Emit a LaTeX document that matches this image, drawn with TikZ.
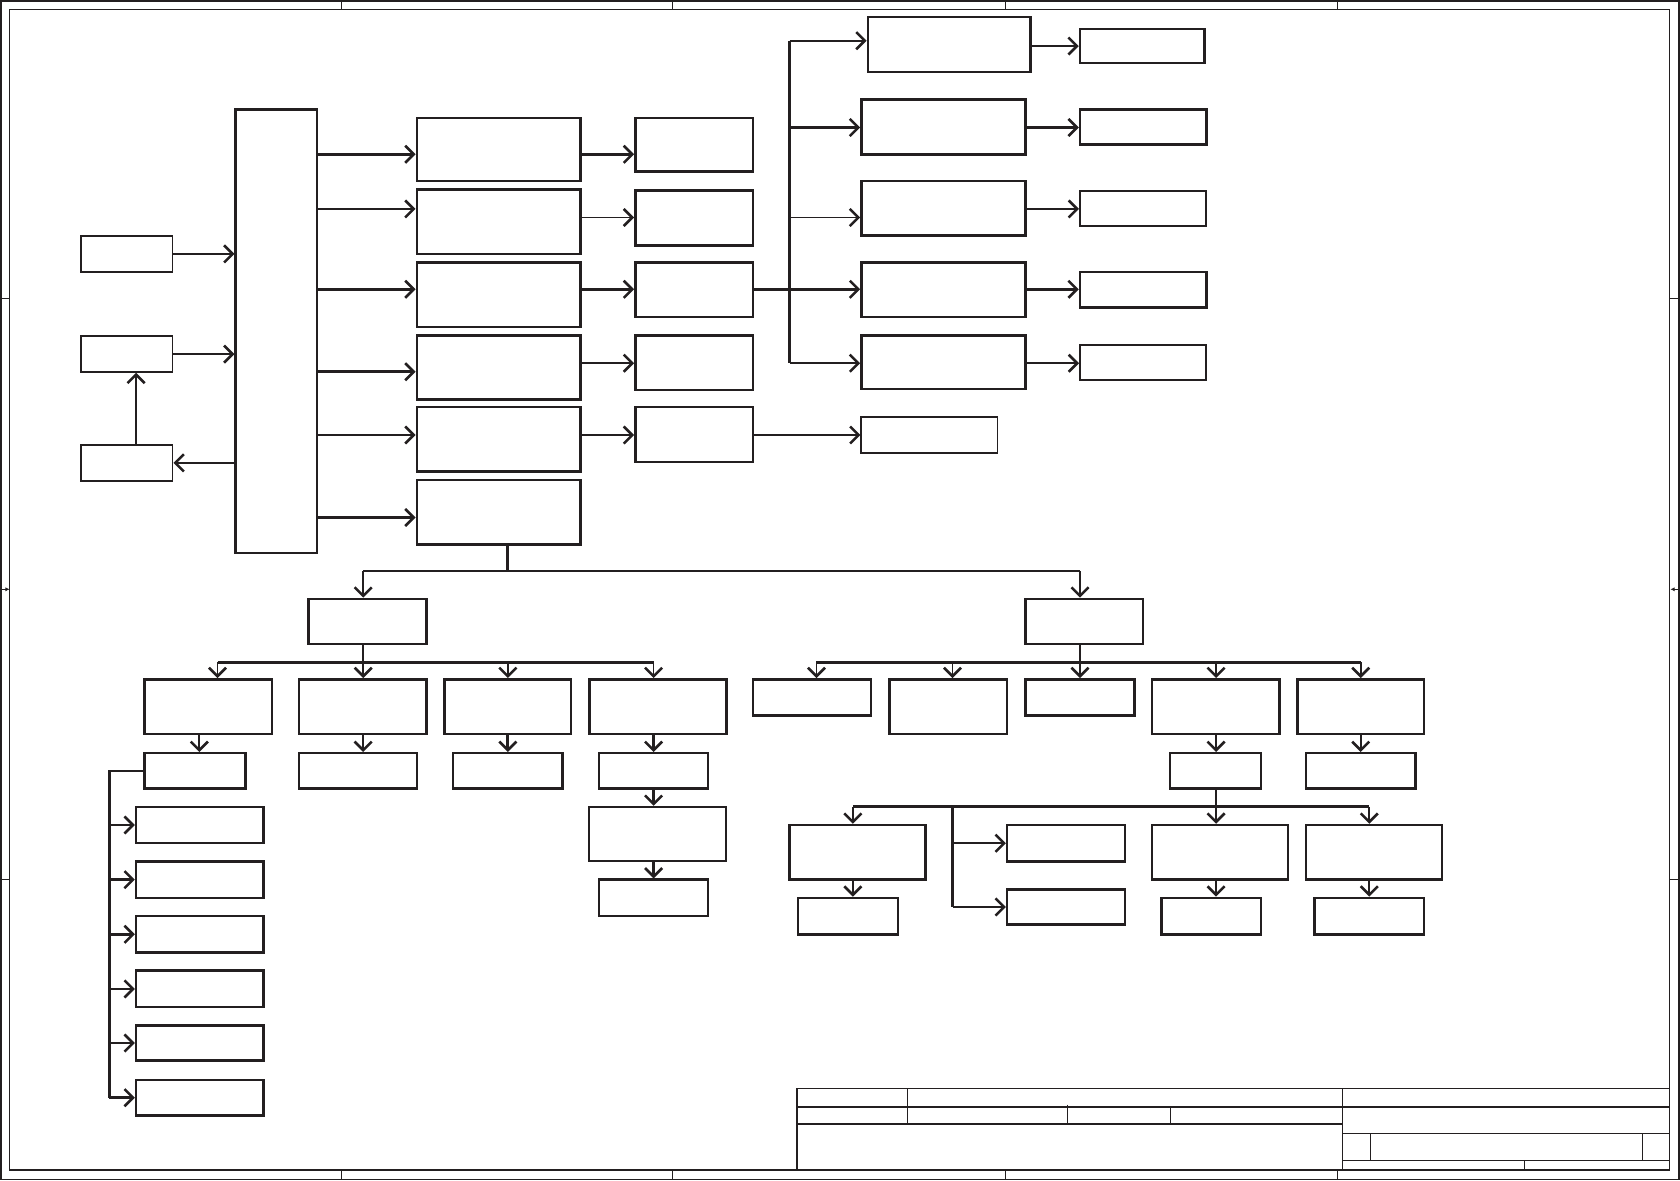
\documentclass[tikz,border=0pt]{standalone}
\usetikzlibrary{arrows.meta}
\definecolor{ink}{RGB}{35,31,32}
\newcommand\mybox[6][]{\node[box,#1,minimum width=#5pt-#3pt,minimum height=#6pt-#4pt] (#2) at ({(#3+#5)/2},{(#4+#6)/2}) {};}
\begin{document}
\begin{tikzpicture}[x=1pt,y=-1pt,
  box/.style={draw=ink,line width=2.3pt,inner sep=0pt,outer sep=0.5\pgflinewidth},
  tbox/.style={line width=1.8pt},
  arr/.style={-{Straight Barb[length=8pt,width=16pt,line width=2.4pt]}},
  thn/.style={draw=ink,line width=1.6pt},
  thk/.style={draw=ink,line width=2.6pt},
  frame/.style={draw=ink,line width=1.5pt},
  tb/.style={draw=ink,line width=1.6pt},
  tbt/.style={draw=ink,line width=0.9pt}]
\useasboundingbox (0,0) rectangle (1568,1102);
% ---- sheet frame ----
\draw[draw=ink,line width=1.2pt] (1,1) rectangle (1567,1101);
\draw[frame] (9,9) rectangle (1558,1092);
\foreach \x in {319,628,938,1248}{
  \draw[tbt] (\x,1) -- (\x,9);
  \draw[tbt] (\x,1092) -- (\x,1101);}
\foreach \y in {279,821}{
  \draw[tbt] (1,\y) -- (9,\y);
  \draw[tbt] (1558,\y) -- (1567,\y);}
\coordinate (la) at (2,550); \coordinate (lb) at (9,550);
\coordinate (ra) at (1566,550); \coordinate (rb) at (1559,550);
\draw[tbt,-{Latex[length=4pt,width=4pt]}] (la) -- (lb);
\draw[tbt,-{Latex[length=4pt,width=4pt]}] (ra) -- (rb);
% ---- title block ----
\draw[tb] (744,1092) -- (744,1016) -- (1558,1016);
\draw[tb] (744,1033) -- (1558,1033);
\draw[tb] (744,1049) -- (1253,1049);
\draw[tb] (847,1016) -- (847,1049);
\draw[tb] (1253,1016) -- (1253,1092);
\draw[tbt] (996,1031) -- (996,1049);
\draw[tbt] (1092,1033) -- (1092,1049);
\draw[tb] (1253,1058) -- (1558,1058);
\draw[tb] (1253,1083) -- (1558,1083);
\draw[tb] (1279,1058) -- (1279,1083);
\draw[tb] (1533,1058) -- (1533,1083);
\draw[tbt] (1423,1083) -- (1423,1092);
% ---- upper part ----
\mybox[tbox]{L1}{76}{220}{161}{254}
\mybox[tbox]{L2}{76}{314}{161}{347}
\mybox[tbox]{L3}{76}{415}{161}{449}
\mybox{B}{220}{102}{296}{516}
\mybox{C1}{389}{110}{542}{169}
\mybox{C2}{389}{177}{542}{237}
\mybox{C3}{389}{245}{542}{305}
\mybox{C4}{389}{313}{542}{373}
\mybox{C5}{389}{380}{542}{440}
\mybox{C6}{389}{448}{542}{508}
\mybox{D1}{593}{110}{703}{160}
\mybox{D2}{593}{178}{703}{229}
\mybox{D3}{593}{245}{703}{296}
\mybox{D4}{593}{313}{703}{364}
\mybox{D5}{593}{380}{703}{431}
\mybox{E1}{810}{16}{962}{67}
\mybox{E2}{804}{93}{957}{144}
\mybox{E3}{804}{169}{957}{220}
\mybox{E4}{804}{245}{957}{296}
\mybox{E5}{804}{313}{957}{363}
\mybox[tbox]{E6}{804}{389}{931}{423}
\mybox{F1}{1008}{27}{1124}{59}
\mybox{F2}{1008}{102}{1126}{135}
\mybox[tbox]{F3}{1008}{178}{1126}{211}
\mybox{F4}{1008}{254}{1126}{287}
\mybox[tbox]{F5}{1008}{322}{1126}{355}
% connectors upper
\draw[thk,arr] (L1.east) -- (L1.east -| B.west);
\draw[thn,arr] (L2.east) -- (L2.east -| B.west);
\draw[thn,arr] (B.west |- L3.east) -- (L3.east);
\draw[thk,arr] (127,0 |- L3.north) -- (127,0 |- L2.south);
\draw[thk,arr] (B.east |- 0,144) -- (C1.west |- 0,144);
\draw[thn,arr] (B.east |- 0,195) -- (C2.west |- 0,195);
\draw[thk,arr] (B.east |- 0,270) -- (C3.west |- 0,270);
\draw[thk,arr] (B.east |- 0,347) -- (C4.west |- 0,347);
\draw[thk,arr] (B.east |- 0,406) -- (C5.west |- 0,406);
\draw[thk,arr] (B.east |- 0,483) -- (C6.west |- 0,483);
\draw[thk,arr] (C1.east |- 0,144) -- (D1.west |- 0,144);
\draw[thn,arr] (C2.east |- 0,203) -- (D2.west |- 0,203);
\draw[thk,arr] (C3.east |- 0,270) -- (D3.west |- 0,270);
\draw[thn,arr] (C4.east |- 0,339) -- (D4.west |- 0,339);
\draw[thk,arr] (C5.east |- 0,406) -- (D5.west |- 0,406);
\coordinate (bt) at (737,38);
\coordinate (bm) at (737,270);
\coordinate (bb) at (737,339);
\draw[thk] (D3.east |- bm) -- (bm);
\draw[thk] (bt) -- (bb);
\draw[thn,arr] (bt) -- (E1.west |- bt);
\draw[thk,arr] (737,119) -- (E2.west |- 0,119);
\draw[thn,arr] (737,203) -- (E3.west |- 0,203);
\draw[thk,arr] (bm) -- (E4.west |- bm);
\draw[thn,arr] (bb) -- (E5.west |- bb);
\draw[thk,arr] (D5.east |- 0,406) -- (E6.west |- 0,406);
\draw[thk,arr] (E1.east |- 0,43) -- (F1.west |- 0,43);
\draw[thk,arr] (E2.east |- 0,119) -- (F2.west |- 0,119);
\draw[thn,arr] (E3.east |- 0,195) -- (F3.west |- 0,195);
\draw[thk,arr] (E4.east |- 0,270) -- (F4.west |- 0,270);
\draw[thn,arr] (E5.east |- 0,339) -- (F5.west |- 0,339);
% ---- lower tree ----
\mybox{G1}{288}{559}{398}{601}
\mybox{G2}{957}{559}{1067}{601}
\draw[thk] (474,0 |- C6.south) -- (474,533);
\draw[thk] (339,533) -- (1008,533);
\draw[thn,arr] (339,533) -- (339,0 |- G1.north);
\draw[thn,arr] (1008,533) -- (1008,0 |- G2.north);
% left subtree
\mybox{H1}{135}{634}{254}{685}
\mybox{H2}{279}{634}{398}{685}
\mybox{H3}{415}{634}{533}{685}
\mybox{H4}{550}{634}{678}{685}
\mybox{I1}{135}{703}{229}{736}
\mybox{I2}{279}{703}{389}{736}
\mybox{I3}{423}{703}{525}{736}
\mybox{I4}{559}{703}{661}{736}
\mybox[tbox]{J4}{550}{753}{678}{804}
\mybox{K4}{559}{821}{661}{855}
\draw[thn] (339,0 |- G1.south) -- (339,618);
\draw[thk] (203,618) -- (610,618);
\draw[thn,arr] (203,618) -- (203,0 |- H1.north);
\draw[thn,arr] (339,618) -- (339,0 |- H2.north);
\draw[thn,arr] (474,618) -- (474,0 |- H3.north);
\draw[thn,arr] (610,618) -- (610,0 |- H4.north);
\draw[thn,arr] (186,0 |- H1.south) -- (186,0 |- I1.north);
\draw[thn,arr] (339,0 |- H2.south) -- (339,0 |- I2.north);
\draw[thk,arr] (474,0 |- H3.south) -- (474,0 |- I3.north);
\draw[thk,arr] (610,0 |- H4.south) -- (610,0 |- I4.north);
\draw[thk,arr] (610,0 |- I4.south) -- (610,0 |- J4.north);
\draw[thk,arr] (610,0 |- J4.south) -- (610,0 |- K4.north);
\foreach \n/\a/\b in {1/753/787,2/804/838,3/855/889,4/906/940,5/957/990,6/1008/1041}{
  \mybox{M\n}{127}{\a}{246}{\b}}
\draw[thk] (I1.west) -- (102,0 |- I1.west) -- (102,0 |- M6.west);
\foreach \n in {1,...,6}{
  \draw[thk,arr] (102,0 |- M\n.west) -- (M\n.west);}
% right subtree
\mybox{N1}{703}{634}{813}{668}
\mybox{N2}{830}{634}{940}{685}
\mybox{N3}{957}{634}{1059}{668}
\mybox{N4}{1075}{634}{1194}{685}
\mybox{N5}{1211}{634}{1329}{685}
\mybox{O4}{1092}{703}{1177}{736}
\mybox{O5}{1219}{703}{1321}{736}
\mybox{P1}{737}{770}{864}{821}
\mybox{Q1}{940}{770}{1050}{804}
\mybox{Q2}{940}{830}{1050}{863}
\mybox{P3}{1075}{770}{1202}{821}
\mybox{P4}{1219}{770}{1346}{821}
\mybox{R1}{745}{838}{838}{872}
\mybox{R3}{1084}{838}{1177}{872}
\mybox{R4}{1227}{838}{1329}{872}
\draw[thn] (1008,0 |- G2.south) -- (1008,618);
\draw[thk] (762,618) -- (1270,618);
\draw[thn,arr] (762,618) -- (762,0 |- N1.north);
\draw[thn,arr] (889,618) -- (889,0 |- N2.north);
\draw[thn,arr] (1008,618) -- (1008,0 |- N3.north);
\draw[thn,arr] (1135,618) -- (1135,0 |- N4.north);
\draw[thn,arr] (1270,618) -- (1270,0 |- N5.north);
\draw[thn,arr] (1135,0 |- N4.south) -- (1135,0 |- O4.north);
\draw[thn,arr] (1270,0 |- N5.south) -- (1270,0 |- O5.north);
\draw[thn] (1135,0 |- O4.south) -- (1135,753);
\draw[thk] (796,753) -- (1278,753);
\draw[thn,arr] (796,753) -- (796,0 |- P1.north);
\draw[thn,arr] (1135,753) -- (1135,0 |- P3.north);
\draw[thn,arr] (1278,753) -- (1278,0 |- P4.north);
\draw[thk] (889,753) -- (889,0 |- Q2.west);
\draw[thn,arr] (889,0 |- Q1.west) -- (Q1.west);
\draw[thk,arr] (889,0 |- Q2.west) -- (Q2.west);
\draw[thn,arr] (796,0 |- P1.south) -- (796,0 |- R1.north);
\draw[thn,arr] (1135,0 |- P3.south) -- (1135,0 |- R3.north);
\draw[thn,arr] (1278,0 |- P4.south) -- (1278,0 |- R4.north);
\end{tikzpicture}
\end{document}
